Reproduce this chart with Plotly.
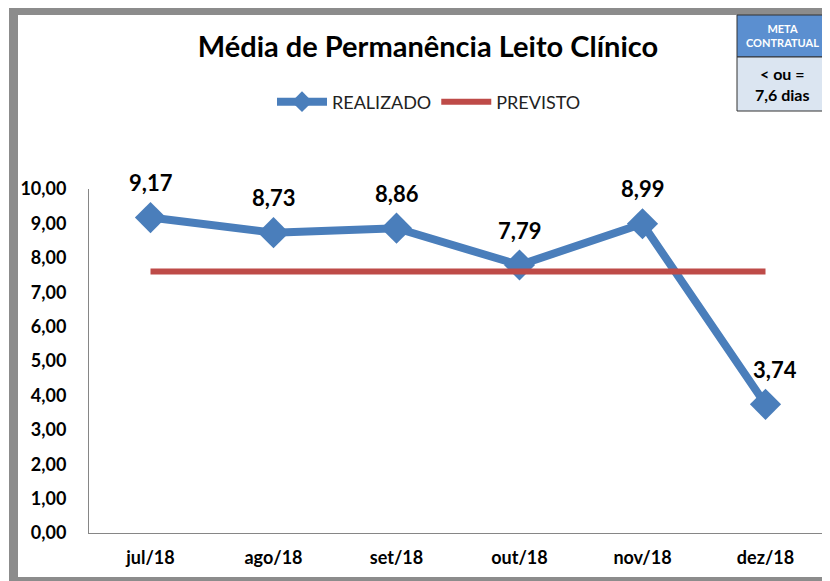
import plotly.graph_objects as go

# chart data
meses = ["jul/18", "ago/18", "set/18", "out/18", "nov/18", "dez/18"]
realizado = [9.17, 8.73, 8.86, 7.79, 8.99, 3.74]
previsto = [7.6, 7.6, 7.6, 7.6, 7.6, 7.6]
rotulos = ["9,17", "8,73", "8,86", "7,79", "8,99", "3,74"]
y_ticks = [0, 1, 2, 3, 4, 5, 6, 7, 8, 9, 10]
y_tick_text = ["0,00", "1,00", "2,00", "3,00", "4,00", "5,00",
               "6,00", "7,00", "8,00", "9,00", "10,00"]

# the page body adds an 8px margin, so the figure is drawn 8px smaller
OFF = 8
W, H = 830 - OFF, 581 - OFF
FONT = "Lato"
AZUL = "#4a7ebb"
VERMELHO = "#be4b48"

fig = go.Figure()

fig.add_trace(go.Scatter(
    x=meses, y=realizado, name="REALIZADO",
    mode="lines+markers",
    line=dict(color=AZUL, width=8),
    marker=dict(symbol="diamond", size=24, color=AZUL),
))
fig.add_trace(go.Scatter(
    x=meses, y=previsto, name="PREVISTO",
    mode="lines",
    line=dict(color=VERMELHO, width=6),
))


# screen pixel -> paper fraction
def px(x):
    return (x - OFF) / W


def py(y):
    return 1 - (y - OFF) / H


shapes = [
    # gray frame (left, top, bottom)
    dict(type="rect", xref="paper", yref="paper", x0=px(9), x1=px(18),
         y0=py(581), y1=1, fillcolor="#8c8c8c", line_width=0),
    dict(type="rect", xref="paper", yref="paper", x0=px(9), x1=1,
         y0=py(15), y1=1, fillcolor="#8c8c8c", line_width=0),
    dict(type="rect", xref="paper", yref="paper", x0=px(9), x1=1,
         y0=0, y1=py(577), fillcolor="#8c8c8c", line_width=0),
    # meta box
    dict(type="rect", xref="paper", yref="paper", x0=px(737), x1=px(827),
         y0=py(57), y1=py(15), fillcolor="#5b8fd0", line=dict(color="#333333", width=1)),
    dict(type="rect", xref="paper", yref="paper", x0=px(737), x1=px(827),
         y0=py(111), y1=py(57), fillcolor="#dbe5f1", line=dict(color="#333333", width=1)),
]

annotations = [
    dict(xref="paper", yref="paper", x=px(782), y=py(36), showarrow=False,
         xanchor="center", yanchor="middle",
         text="META<br>CONTRATUAL", align="center",
         font=dict(family=FONT, size=11, color="white", weight="bold")),
    dict(xref="paper", yref="paper", x=px(782), y=py(84), showarrow=False,
         xanchor="center", yanchor="middle",
         text="< ou =<br>7,6 dias", align="center",
         font=dict(family=FONT, size=16, color="black", weight="bold")),
]

# data labels above each point
for i, (m, v, t) in enumerate(zip(meses, realizado, rotulos)):
    last = i == len(meses) - 1
    annotations.append(dict(
        x=m, y=v, xref="x", yref="y", text=t, showarrow=False,
        xanchor="center", yanchor="middle",
        yshift=35, xshift=9 if last else 0,
        font=dict(family=FONT, size=22, color="black", weight="bold"),
    ))

fig.update_layout(
    width=W, height=H,
    margin=dict(l=0, r=0, t=0, b=0),
    paper_bgcolor="white", plot_bgcolor="white",
    title=dict(text="Média de Permanência Leito Clínico",
               x=px(428), xanchor="center", y=py(47), yanchor="middle",
               font=dict(family=FONT, size=29, color="black", weight="bold")),
    legend=dict(orientation="h", x=px(429), xanchor="center", y=py(102), yanchor="middle",
                font=dict(family=FONT, size=18, color="#222222"),
                itemwidth=50, tracegroupgap=0),
    xaxis=dict(domain=[px(89), px(827)], range=[-0.5, 5.5], showgrid=False,
               showline=True, automargin=False,
               linecolor="#868686", linewidth=1, ticks="", ticklabelstandoff=8,
               tickfont=dict(family=FONT, size=18, color="black", weight="bold")),
    yaxis=dict(domain=[py(533), py(189)], range=[0, 10], tickvals=y_ticks,
               ticktext=y_tick_text, showgrid=False, showline=True,
               automargin=False,
               linecolor="#868686", linewidth=1, ticks="", ticklabelstandoff=18,
               zeroline=False,
               tickfont=dict(family=FONT, size=18, color="black", weight="bold")),
    shapes=shapes,
    annotations=annotations,
    showlegend=True,
)

fig.write_html("out.html")
